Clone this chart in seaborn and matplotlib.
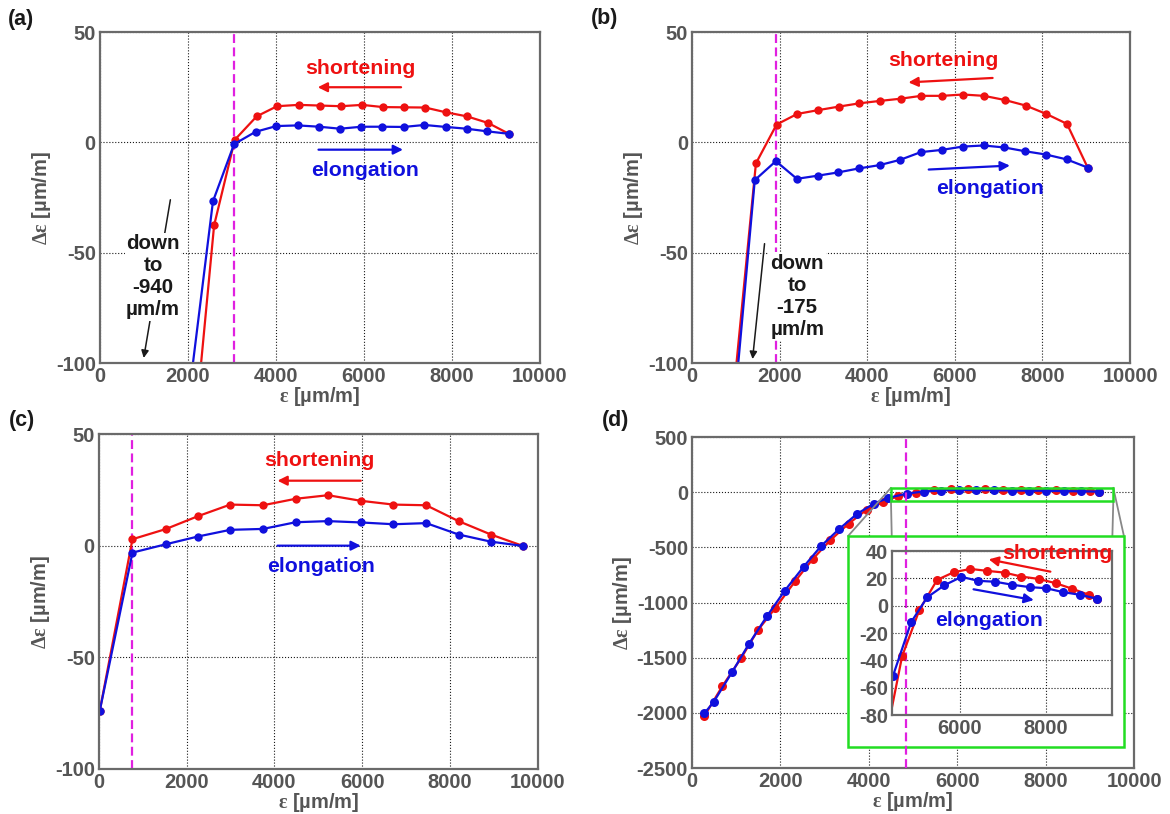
import matplotlib
matplotlib.use('Agg')
import matplotlib.pyplot as plt
import seaborn as sns
from matplotlib.patches import Rectangle, ConnectionPatch

# --- Panel (a) ---
a_short_x = [1900, 2250, 2593, 3064, 3561, 4024, 4512, 5000, 5471, 5960, 6431, 6902, 7391, 7870, 8342, 8822, 9293]
a_short_y = [-940, -110, -37.6, 1.2, 11.8, 16.4, 17.0, 16.7, 16.4, 17.0, 16.0, 15.9, 15.8, 13.6, 11.8, 8.8, 3.9]
a_elong_x = [1700, 2100, 2567, 3047, 3535, 4007, 4495, 4983, 5455, 5943, 6414, 6902, 7374, 7862, 8333, 8805, 9293]
a_elong_y = [-940, -102, -26.7, -0.8, 4.8, 7.4, 7.7, 7.1, 6.2, 7.1, 7.1, 7.0, 7.9, 7.0, 6.2, 5.0, 3.9]
a_yield = 3050

# --- Panel (b) ---
b_short_x = [640, 1000, 1458, 1930, 2401, 2873, 3345, 3816, 4288, 4760, 5232, 5712, 6184, 6664, 7144, 7616, 8087, 8559, 9031]
b_short_y = [-175, -103, -9.5, 8.1, 12.9, 14.6, 16.2, 17.7, 18.8, 19.8, 21.1, 21.1, 21.7, 21.1, 19.2, 16.7, 12.9, 8.4, -11.4]
b_elong_x = [714, 1432, 1913, 2393, 2864, 3336, 3808, 4280, 4751, 5223, 5703, 6175, 6655, 7127, 7599, 8079, 8551, 9031]
b_elong_y = [-175, -17.1, -8.5, -16.5, -15.1, -13.6, -11.8, -10.3, -7.9, -4.4, -3.4, -1.9, -1.4, -2.3, -4.0, -5.5, -7.7, -11.4]
b_yield = 1913

# --- Panel (c) ---
c_short_x = [17, 763, 1517, 2254, 2992, 3737, 4483, 5220, 5966, 6712, 7458, 8195, 8932, 9661]
c_short_y = [-74, 2.9, 7.4, 13.2, 18.4, 18.1, 21.0, 22.6, 20.1, 18.4, 18.1, 11.0, 5.0, -0.1]
c_elong_x = [17, 763, 1517, 2254, 2992, 3737, 4483, 5220, 5966, 6712, 7458, 8195, 8932, 9661]
c_elong_y = [-74, -3.1, 0.6, 4.1, 7.1, 7.5, 10.5, 11.0, 10.4, 9.6, 10.1, 5.0, 1.8, -0.1]
c_yield = 763

# --- Panel (d) ---
d_short_x = [281, 682, 1108, 1492, 1884, 2336, 2728, 3129, 3546, 3947, 4331, 4654, 5059, 5471,
             5860, 6249, 6638, 7043, 7439, 7836, 8233, 8622, 9011, 9205]
d_short_y = [-2027, -1761, -1505, -1249, -1050, -805, -607, -435, -284, -160, -88, -37, -3, 18.9,
             24.5, 26.9, 25.5, 24.2, 21.3, 19.6, 16.5, 12.4, 8.0, 5.1]
d_elong_x = [281, 486, 904, 1287, 1697, 2097, 2523, 2924, 3333, 3734, 4118, 4440, 4864, 5238,
             5642, 6039, 6428, 6832, 7229, 7626, 8015, 8412, 8801, 9205]
d_elong_y = [-2003, -1903, -1632, -1375, -1122, -893, -676, -486, -332, -196, -103, -51.4, -12.1, 6.1,
             15.0, 21.1, 18.2, 17.5, 15.3, 13.6, 12.8, 9.9, 8.0, 5.1]
d_yield = 4850
zoom_x = [4500, 9530]
zoom_y = [-80, 40]
inset_xlim = [4420, 9550]

RED = '#ee1111'
BLUE = '#1010dd'
MAG = '#e020e0'
GRAY = '#555555'

sns.set_theme(style='white')
plt.rcParams['font.family'] = ['Liberation Sans', 'DejaVu Sans']
plt.rcParams['font.weight'] = 'bold'
plt.rcParams['mathtext.fontset'] = 'custom'
plt.rcParams['mathtext.rm'] = 'Liberation Serif'
plt.rcParams['axes.unicode_minus'] = False

XLABEL = r'$\mathrm{\varepsilon}$ [µm/m]'
YLABEL = r'$\mathrm{\Delta\varepsilon}$ [µm/m]'

fig = plt.figure(figsize=(11.7, 8.14), dpi=100)
ax_a = fig.add_axes([0.0855, 0.554, 0.376, 0.4066])
ax_b = fig.add_axes([0.5915, 0.554, 0.3744, 0.4066])
ax_c = fig.add_axes([0.0846, 0.0553, 0.375, 0.4115])
ax_d = fig.add_axes([0.5915, 0.0565, 0.3778, 0.4066])


def style_axes(ax, ylim, yticks):
    ax.set_xlim(0, 10000)
    ax.set_ylim(*ylim)
    ax.set_xticks(range(0, 10001, 2000))
    ax.set_yticks(yticks)
    ax.grid(True, linestyle=':', color='k', linewidth=0.8)
    ax.tick_params(length=0, labelsize=14.5, labelcolor=GRAY, pad=3)
    for s in ax.spines.values():
        s.set_color('#6a6a6a')
        s.set_linewidth(1.6)
    ax.set_xlabel(XLABEL, fontsize=14.5, fontweight='bold', color=GRAY, labelpad=-1)
    ax.set_ylabel(YLABEL, fontsize=14.5, fontweight='bold', color=GRAY, labelpad=2)


def draw_series(ax, sx, sy, ex, ey, ms=6):
    sns.lineplot(x=sx, y=sy, ax=ax, color=RED, marker='o', markersize=ms,
                 markeredgewidth=0, linewidth=1.6, sort=False, estimator=None)
    sns.lineplot(x=ex, y=ey, ax=ax, color=BLUE, marker='o', markersize=ms,
                 markeredgewidth=0, linewidth=1.6, sort=False, estimator=None)


def arrow(ax, start, end, color, lw=1.6, ms=14, z=5):
    ax.annotate('', xy=end, xytext=start,
                arrowprops=dict(arrowstyle='-|>', color=color, lw=lw,
                                mutation_scale=ms, shrinkA=0, shrinkB=0),
                zorder=z)


def labels(ax, s_xy, s_arrow, e_xy, e_arrow):
    ax.text(*s_xy, 'shortening', color=RED, fontsize=15.3, ha='center', va='center')
    arrow(ax, *s_arrow, RED)
    ax.text(*e_xy, 'elongation', color=BLUE, fontsize=15.3, ha='center', va='center')
    arrow(ax, *e_arrow, BLUE)


def down_note(ax, xy, value):
    ax.text(*xy, f'down\nto\n{value}\nµm/m', fontsize=14.8, color='k', ha='center', va='center',
            linespacing=1.2, zorder=6, bbox=dict(facecolor='white', edgecolor='none', pad=1))


lim_small = (-100, 50)
ticks_small = [-100, -50, 0, 50]

# (a)
style_axes(ax_a, lim_small, ticks_small)
ax_a.axvline(a_yield, color=MAG, linestyle='--', linewidth=1.6, dashes=(4, 2))
draw_series(ax_a, a_short_x, a_short_y, a_elong_x, a_elong_y)
labels(ax_a, (5918, 33.3), ((6843, 25), (4949, 25)), (6019, -12.9), ((4966, -3.3), (6886, -3.3)))
arrow(ax_a, (1599, -26), (993, -97.7), 'k', lw=1.1, ms=11)
down_note(ax_a, (1204, -61), '-940')

# (b)
style_axes(ax_b, lim_small, ticks_small)
ax_b.axvline(b_yield, color=MAG, linestyle='--', linewidth=1.6, dashes=(4, 2))
draw_series(ax_b, b_short_x, b_short_y, b_elong_x, b_elong_y)
labels(ax_b, (5729, 37), ((6861, 29.2), (4940, 27.2)), (6801, -20.9), ((5403, -12.3), (7256, -10.5)))
arrow(ax_b, (1655, -45.9), (1381, -98.2), 'k', lw=1.1, ms=11)
down_note(ax_b, (2401, -69.8), '-175')

# (c)
style_axes(ax_c, lim_small, ticks_small)
ax_c.axvline(c_yield, color=MAG, linestyle='--', linewidth=1.6, dashes=(4, 2))
draw_series(ax_c, c_short_x, c_short_y, c_elong_x, c_elong_y)
labels(ax_c, (5034, 38), ((5966, 29.1), (4068, 29.1)), (5068, -9.4), ((4068, 0), (5966, 0)))

# (d)
style_axes(ax_d, (-2500, 500), range(-2500, 501, 500))
draw_series(ax_d, d_short_x, d_short_y, d_elong_x, d_elong_y, ms=6.5)

frame = [0.353, 0.0634, 0.624, 0.6376]
ax_d.add_patch(Rectangle((frame[0], frame[1]), frame[2], frame[3], transform=ax_d.transAxes,
                         facecolor='white', edgecolor='#22dd22', linewidth=1.8, zorder=3))
ax_d.add_patch(Rectangle((zoom_x[0], zoom_y[0]), zoom_x[1] - zoom_x[0], zoom_y[1] - zoom_y[0],
                         facecolor='none', edgecolor='#22dd22', linewidth=1.8, zorder=3.5))
ax_d.axvline(d_yield, color=MAG, linestyle='--', linewidth=1.6, dashes=(4, 2), zorder=4)

ins_pos = [0.4525, 0.160, 0.4975, 0.4956]
axins = ax_d.inset_axes(ins_pos)
axins.set_facecolor('none')
draw_series(axins, d_short_x, d_short_y, d_elong_x, d_elong_y, ms=6.5)
axins.set_xlim(*inset_xlim)
axins.set_ylim(-80, 40)
axins.set_xticks([6000, 8000])
axins.set_yticks(range(-80, 41, 20))
axins.grid(True, linestyle=':', color='k', linewidth=0.8)
axins.tick_params(length=0, labelsize=14.5, labelcolor=GRAY, pad=3)
for s in axins.spines.values():
    s.set_color('#6a6a6a')
    s.set_linewidth(1.6)
axins.set_xlabel('')
axins.set_ylabel('')
axins.text(8275, 38.5, 'shortening', color=RED, fontsize=15.3, ha='center', va='center', clip_on=False)
arrow(axins, (8113, 24.9), (6675, 33.9), RED)
axins.text(6675, -10.5, 'elongation', color=BLUE, fontsize=15.3, ha='center', va='center')
arrow(axins, (6321, 12.0), (7726, 4.1), BLUE)

# connector lines from zoom box to the inset frame
corners = [((zoom_x[0], zoom_y[1]), (frame[0], frame[1] + frame[3])),
           ((zoom_x[1], zoom_y[1]), (frame[0] + frame[2], frame[1] + frame[3])),
           ((zoom_x[0], zoom_y[0]), (ins_pos[0], ins_pos[1] + ins_pos[3])),
           ((zoom_x[1], zoom_y[0]), (ins_pos[0] + ins_pos[2], ins_pos[1] + ins_pos[3]))]
for a_xy, b_xy in corners:
    cp = ConnectionPatch(xyA=a_xy, coordsA='data', axesA=ax_d, xyB=b_xy, coordsB=ax_d.transAxes,
                         color='#888888', linewidth=1.3, zorder=2.5)
    ax_d.add_artist(cp)

for lab, x, y in [('(a)', 0.007, 0.976), ('(b)', 0.505, 0.977), ('(c)', 0.008, 0.484), ('(d)', 0.514, 0.484)]:
    fig.text(x, y, lab, fontsize=15.5, color='k', ha='left', va='center')

fig.savefig('out.png', dpi=100)
